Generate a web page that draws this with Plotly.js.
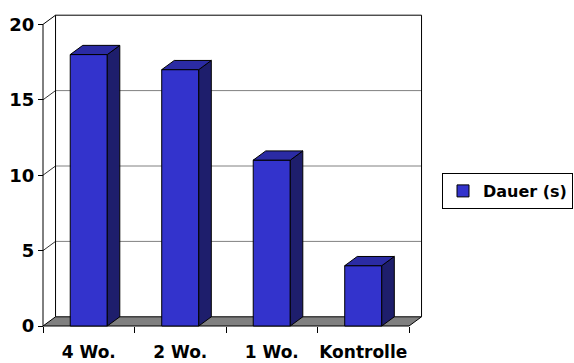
<!DOCTYPE html>
<html>
<head>
<meta charset="utf-8">
<script src="https://cdn.plot.ly/plotly-3.0.1.min.js"></script>
<style>html,body{margin:0;padding:0;background:#fff;}#chart{width:574px;height:363px;}</style>
</head>
<body>
<div id="chart"></div>
<script>
// ---- data ----
const categories = ['4 Wo.', '2 Wo.', '1 Wo.', 'Kontrolle'];
const values = [18, 17, 11, 4];
const seriesName = 'Dauer (s)';
const yTickVals = [0, 5, 10, 15, 20];
const yTickText = ['0', '5', '10', '15', '20'];

// ---- style / geometry ----
const FONT = 'DejaVu Sans, Verdana, sans-serif';
const barW = 0.405;   // bar width in category units
const dX = 0.137;     // 3D depth (x, category units)
const dY = 0.61;      // 3D depth (y, value units)
const colFront = '#3333CC', colSide = '#1E1E6C', colTop = '#2B2BA4';
const yMax = yTickVals[yTickVals.length - 1];
const xIdx = categories.map((c, i) => i);
const xL = -0.5, xR = categories.length - 0.5;

// side & top faces of each bar, derived from values
const sideX = [], sideY = [], topX = [], topY = [];
xIdx.forEach((x, i) => {
  const v = values[i], r = x + barW / 2, l = x - barW / 2;
  sideX.push(r, r + dX, r + dX, r, r, null);
  sideY.push(0, dY, v + dY, v, 0, null);
  topX.push(l, l + dX, r + dX, r, l, null);
  topY.push(v, v + dY, v + dY, v, v, null);
});

const traces = [
  {type: 'bar', x: xIdx, y: values, width: barW, name: seriesName,
   marker: {color: colFront, line: {color: '#000', width: 1}},
   hoverinfo: 'skip', showlegend: true},
  {type: 'scatter', mode: 'lines', x: sideX, y: sideY, fill: 'toself',
   fillcolor: colSide, line: {color: '#000', width: 1}, showlegend: false, hoverinfo: 'skip'},
  {type: 'scatter', mode: 'lines', x: topX, y: topY, fill: 'toself',
   fillcolor: colTop, line: {color: '#000', width: 1}, showlegend: false, hoverinfo: 'skip'}
];

// ---- walls / floor / gridlines (chart frame) ----
const shapes = [];
const P = (pts) => 'M ' + pts.map(p => p[0] + ',' + p[1]).join(' L ');
// floor
shapes.push({type: 'path', xref: 'x', yref: 'y', layer: 'below',
  path: P([[xL, 0], [xR, 0], [xR + dX, dY], [xL + dX, dY]]) + ' Z',
  fillcolor: '#808080', line: {color: '#000', width: 1}});
// gridlines on back wall + diagonals on side wall
yTickVals.slice(1, -1).forEach(v => {
  shapes.push({type: 'path', xref: 'x', yref: 'y', layer: 'below',
    path: P([[xL + dX, v + dY], [xR + dX, v + dY]]), line: {color: '#808080', width: 1}});
  shapes.push({type: 'path', xref: 'x', yref: 'y', layer: 'below',
    path: P([[xL, v], [xL + dX, v + dY]]), line: {color: '#333', width: 1}});
});
// back wall outline
shapes.push({type: 'path', xref: 'x', yref: 'y', layer: 'below',
  path: P([[xL + dX, dY], [xL + dX, yMax + dY], [xR + dX, yMax + dY], [xR + dX, dY]]),
  line: {color: '#000', width: 1}});
// front-left axis line and top diagonal
shapes.push({type: 'path', xref: 'x', yref: 'y', layer: 'below',
  path: P([[xL, 0], [xL, yMax], [xL + dX, yMax + dY]]), line: {color: '#000', width: 1}});

// pixel mapping
const W = 574, H = 363;
const plotL = 41, plotR = 424, plotT = 13, plotB = 328;
const pxX = 91.5, pxY = 15.08, x0px = 43, y0px = 326;
const xRange = [xL - (x0px - plotL) / pxX, xL + (plotR - x0px) / pxX];
const yRange = [-(plotB - y0px) / pxY, (y0px - plotT) / pxY];

const layout = {
  width: W, height: H,
  margin: {l: plotL, r: W - plotR, t: plotT, b: H - plotB, pad: 0, autoexpand: false},
  paper_bgcolor: '#fff', plot_bgcolor: 'rgba(0,0,0,0)',
  font: {family: FONT, color: '#000'},
  showlegend: true,
  xaxis: {range: xRange, anchor: 'free', position: (plotB - y0px) / (plotB - plotT),
    tickmode: 'array', tickvals: xIdx, ticktext: categories, ticks: '',
    tickfont: {family: FONT, size: 17, weight: 'bold', color: '#000'},
    ticklabelstandoff: 14,
    minor: {tickmode: 'array', tickvals: xIdx.map(x => x - 0.5).concat([xR]),
            ticks: 'outside', ticklen: 6, tickcolor: '#000', tickwidth: 1, showgrid: false},
    showgrid: false, zeroline: false, showline: false, fixedrange: true},
  yaxis: {range: yRange, anchor: 'free', position: (x0px - plotL) / (plotR - plotL),
    tickmode: 'array', tickvals: yTickVals, ticktext: yTickText,
    ticks: 'outside', ticklen: 5, tickcolor: '#000', tickwidth: 1,
    tickfont: {family: FONT, size: 18, weight: 'bold', color: '#000'},
    showgrid: false, zeroline: false, showline: false, fixedrange: true},
  legend: {x: (442 - plotL) / (plotR - plotL), y: (plotB - 191) / (plotB - plotT),
    xanchor: 'left', yanchor: 'middle', bgcolor: '#fff',
    bordercolor: '#000', borderwidth: 1,
    font: {family: FONT, size: 16, weight: 'bold', color: '#000'}},
  bargap: 0,
  shapes: shapes
};

Plotly.newPlot('chart', traces, layout, {displayModeBar: false, staticPlot: true});
</script>
</body>
</html>
